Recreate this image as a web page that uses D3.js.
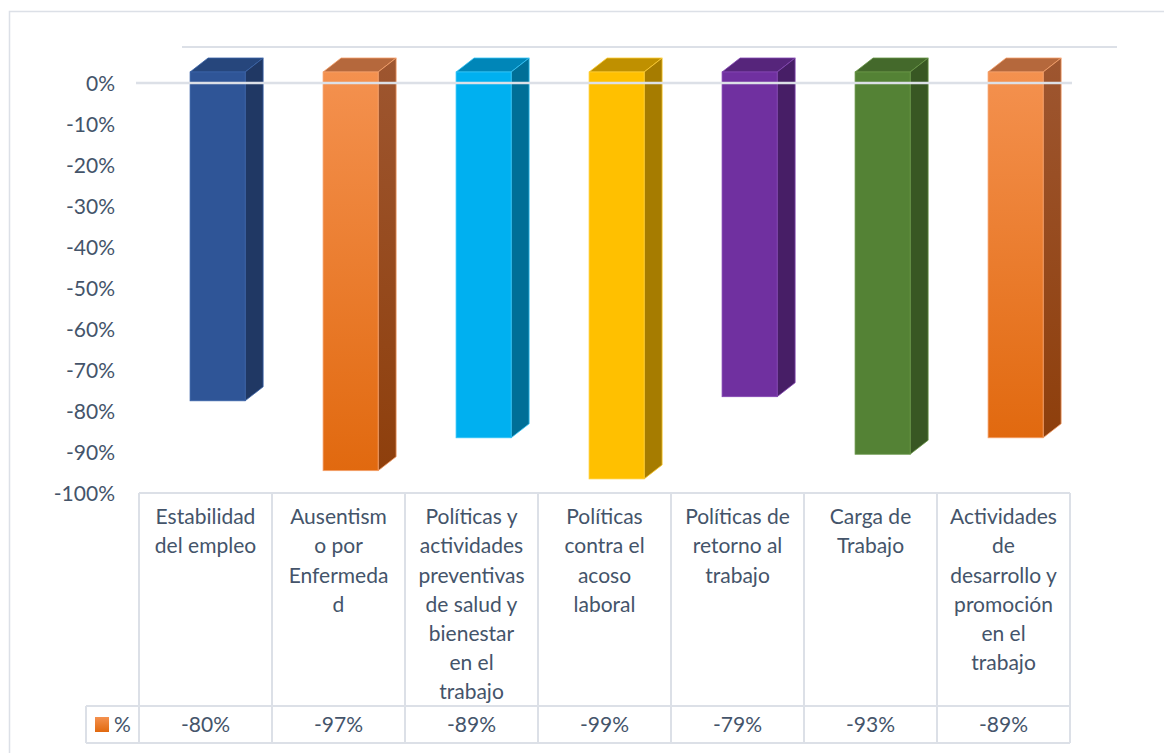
<!DOCTYPE html>
<html>
<head>
<meta charset="utf-8">
<script src="https://cdn.jsdelivr.net/npm/d3@7"></script>
<style>
  body { margin: 0; background: #fff; }
  text { font-family: Lato, "Open Sans", sans-serif; fill: #44546A; }
</style>
</head>
<body>
<svg id="chart" width="1164" height="753"></svg>
<script>
// data
var categories = ["Estabilidad del empleo", "Ausentismo por Enfermedad",
  "Políticas y actividades preventivas de salud y bienestar en el trabajo",
  "Políticas contra el acoso laboral", "Políticas de retorno al trabajo",
  "Carga de Trabajo", "Actividades de desarrollo y promoción en el trabajo"];
var labelLines = [
  ["Estabilidad", "del empleo"],
  ["Ausentism", "o por", "Enfermeda", "d"],
  ["Políticas y", "actividades", "preventivas", "de salud y", "bienestar", "en el", "trabajo"],
  ["Políticas", "contra el", "acoso", "laboral"],
  ["Políticas de", "retorno al", "trabajo"],
  ["Carga de", "Trabajo"],
  ["Actividades", "de", "desarrollo y", "promoción", "en el", "trabajo"]
];
var values = [-0.80, -0.97, -0.89, -0.99, -0.79, -0.93, -0.89];
var seriesName = "%";
var yTicks = [0, -0.1, -0.2, -0.3, -0.4, -0.5, -0.6, -0.7, -0.8, -0.9, -1.0];

// colours: front / side / top
var faceColors = [
  {front: "#2F5597", side: "#203864", top: "#26467C", edge: "#3A63A8"},
  {front: "orange", side: "#93471A", top: "#B5683C", edge: "#F5A06A"},
  {front: "#00B0F0", side: "#006F97", top: "#0086B8", edge: "#33C4F8"},
  {front: "#FFC000", side: "#A67C00", top: "#BF9000", edge: "#FFCD33"},
  {front: "#7030A0", side: "#471E66", top: "#56257B", edge: "#8446B3"},
  {front: "#548235", side: "#385723", top: "#44692B", edge: "#689646"},
  {front: "orange", side: "#93471A", top: "#B5683C", edge: "#F5A06A"}
];

var svg = d3.select("#chart");
var gridColor = "#DCE0E7";
var fmt = v => d3.format(".0%")(v).replace("\u2212", "-");

var x = d3.scaleBand().domain(categories).range([139, 1070]);
var yAxis = d3.scaleLinear().domain([0, -1]).range([84, 494]);
var yBar = d3.scaleLinear().domain([0, -1]).range([72, 483]);
var bw = x.bandwidth();
var depthX = 18, depthY = -14;

var defs = svg.append("defs");
var grad = defs.append("linearGradient").attr("id", "orangeGrad")
  .attr("x1", 0).attr("y1", 0).attr("x2", 0).attr("y2", 1);
grad.append("stop").attr("offset", "0%").attr("stop-color", "#F4914F");
grad.append("stop").attr("offset", "100%").attr("stop-color", "#E1690F");
var grad2 = defs.append("linearGradient").attr("id", "orangeSide")
  .attr("x1", 0).attr("y1", 0).attr("x2", 0).attr("y2", 1);
grad2.append("stop").attr("offset", "0%").attr("stop-color", "#9E5630");
grad2.append("stop").attr("offset", "100%").attr("stop-color", "#8E3F0C");

// outer chart border
svg.append("rect")
  .attr("x", 9.5).attr("y", 11.5).attr("width", 1200).attr("height", 800)
  .attr("fill", "none").attr("stroke", gridColor).attr("stroke-width", 1.5);

// back wall zero line
svg.append("line")
  .attr("x1", 182).attr("x2", 1117)
  .attr("y1", yAxis(0) - 37).attr("y2", yAxis(0) - 37)
  .attr("stroke", gridColor).attr("stroke-width", 2);

// bars
var bars = svg.selectAll(".bar")
  .data(values)
  .join("g")
  .attr("class", "bar");

function fillOf(i, face) {
  var c = faceColors[i];
  if (c.front === "orange") {
    if (face === "front") return "url(#orangeGrad)";
    if (face === "side") return "url(#orangeSide)";
  }
  return c[face];
}

bars.each(function(v, i) {
  var g = d3.select(this);
  var x0 = x(categories[i]) + bw * 0.384;
  var w = bw * 0.414;
  var top = yBar(0), bot = yBar(v);
  var edge = faceColors[i].edge;
  g.append("polygon")
    .attr("points", [[x0, top], [x0 + depthX, top + depthY], [x0 + w + depthX, top + depthY], [x0 + w, top]].join(" "))
    .attr("fill", fillOf(i, "top"))
    .attr("stroke", edge).attr("stroke-width", 0.8).attr("stroke-linejoin", "round");
  g.append("polygon")
    .attr("points", [[x0 + w, top], [x0 + w + depthX, top + depthY], [x0 + w + depthX, bot + depthY], [x0 + w, bot]].join(" "))
    .attr("fill", fillOf(i, "side"))
    .attr("stroke", edge).attr("stroke-width", 0.8).attr("stroke-linejoin", "round");
  g.append("rect")
    .attr("x", x0).attr("y", top).attr("width", w).attr("height", bot - top)
    .attr("fill", fillOf(i, "front"))
    .attr("stroke", edge).attr("stroke-width", 0.8);
});

// front zero gridline
svg.append("line")
  .attr("x1", 136).attr("x2", 1072)
  .attr("y1", yAxis(0) - 1).attr("y2", yAxis(0) - 1)
  .attr("stroke", gridColor).attr("stroke-width", 2.5);

// y axis labels
svg.selectAll(".ytick")
  .data(yTicks)
  .join("text")
  .attr("class", "ytick")
  .attr("x", 115)
  .attr("y", d => yAxis(d))
  .attr("dy", "0.35em")
  .attr("text-anchor", "end")
  .style("font-size", "21px")
  .text(fmt);

// data table
var tableTop = 493, rowTop = 706, rowBot = 743, legendLeft = 86;
var t = svg.append("g").attr("stroke", gridColor).attr("stroke-width", 2);
t.append("line").attr("x1", 139).attr("x2", 1070).attr("y1", tableTop).attr("y2", tableTop);
t.append("line").attr("x1", legendLeft).attr("x2", 1070).attr("y1", rowTop).attr("y2", rowTop);
t.append("line").attr("x1", legendLeft).attr("x2", 1070).attr("y1", rowBot).attr("y2", rowBot);
t.append("line").attr("x1", legendLeft).attr("x2", legendLeft).attr("y1", rowTop).attr("y2", rowBot);
var bounds = categories.map(c => x(c)).concat([x(categories[categories.length - 1]) + bw]);
t.selectAll(".vline").data(bounds).join("line")
  .attr("x1", d => d).attr("x2", d => d)
  .attr("y1", tableTop).attr("y2", rowBot);

// header labels
svg.selectAll(".catlabel")
  .data(labelLines)
  .join("text")
  .attr("class", "catlabel")
  .attr("text-anchor", "middle")
  .style("font-size", "21px")
  .each(function(lines, i) {
    var cx = x(categories[i]) + bw / 2;
    d3.select(this).selectAll("tspan").data(lines).join("tspan")
      .attr("x", cx)
      .attr("y", (d, j) => 517 + j * 29.1)
      .attr("dy", "0.35em")
      .text(d => d);
  });

// value row
svg.selectAll(".vallabel")
  .data(values)
  .join("text")
  .attr("class", "vallabel")
  .attr("x", (d, i) => x(categories[i]) + bw / 2)
  .attr("y", (rowTop + rowBot) / 2)
  .attr("dy", "0.35em")
  .attr("text-anchor", "middle")
  .style("font-size", "21px")
  .text(fmt);

// legend key
svg.append("rect")
  .attr("x", 95).attr("y", 717).attr("width", 14).attr("height", 15)
  .attr("fill", "url(#orangeGrad)");
svg.append("text")
  .attr("x", 114).attr("y", (rowTop + rowBot) / 2)
  .attr("dy", "0.35em")
  .style("font-size", "21px")
  .text(seriesName);
</script>
</body>
</html>
